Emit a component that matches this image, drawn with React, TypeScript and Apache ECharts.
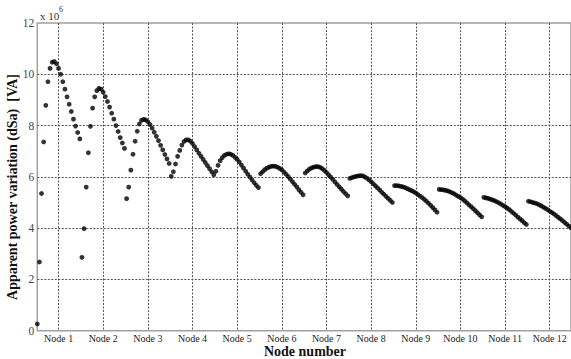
import React, { useEffect, useRef } from "react";
import * as echarts from "echarts";

const nodeLabels = ["Node 1", "Node 2", "Node 3", "Node 4", "Node 5", "Node 6", "Node 7", "Node 8", "Node 9", "Node 10", "Node 11", "Node 12"];
const pointsPerNode = 21;

const node1 = [0.26, 2.68, 5.35, 7.36, 8.79, 9.71, 10.23, 10.47, 10.5, 10.41, 10.23, 10.0, 9.71, 9.42, 9.12, 8.83, 8.55, 8.25, 7.98, 7.73, 7.48];
const node2 = [2.86, 3.98, 5.6, 6.94, 7.97, 8.68, 9.12, 9.36, 9.45, 9.42, 9.3, 9.13, 8.94, 8.72, 8.48, 8.25, 8.0, 7.77, 7.53, 7.32, 7.11];
const node3 = [5.15, 5.6, 6.26, 6.88, 7.39, 7.78, 8.06, 8.2, 8.24, 8.22, 8.15, 8.04, 7.9, 7.74, 7.58, 7.41, 7.23, 7.05, 6.87, 6.7, 6.52];
const node4 = [6.02, 6.2, 6.5, 6.8, 7.03, 7.24, 7.38, 7.44, 7.44, 7.39, 7.3, 7.18, 7.05, 6.92, 6.8, 6.68, 6.56, 6.44, 6.32, 6.2, 6.08];
const node5 = [6.22, 6.45, 6.63, 6.75, 6.84, 6.88, 6.9, 6.88, 6.84, 6.76, 6.68, 6.58, 6.46, 6.34, 6.22, 6.1, 5.99, 5.88, 5.77, 5.67, 5.58];
const node6 = [6.12, 6.2, 6.28, 6.34, 6.38, 6.41, 6.42, 6.41, 6.38, 6.33, 6.27, 6.19, 6.1, 6.01, 5.91, 5.81, 5.71, 5.61, 5.5, 5.4, 5.3];
const node7 = [6.15, 6.23, 6.3, 6.35, 6.38, 6.4, 6.4, 6.37, 6.32, 6.25, 6.17, 6.08, 5.99, 5.9, 5.8, 5.7, 5.61, 5.52, 5.43, 5.34, 5.26];
const node8 = [5.94, 5.97, 6.0, 6.02, 6.04, 6.05, 6.04, 6.0, 5.95, 5.88, 5.81, 5.73, 5.65, 5.57, 5.49, 5.4, 5.32, 5.24, 5.16, 5.08, 5.0];
const node9 = [5.66, 5.66, 5.65, 5.63, 5.61, 5.58, 5.54, 5.5, 5.46, 5.42, 5.37, 5.31, 5.25, 5.19, 5.12, 5.05, 4.97, 4.89, 4.8, 4.71, 4.62];
const node10 = [5.51, 5.5, 5.49, 5.47, 5.45, 5.42, 5.38, 5.34, 5.29, 5.24, 5.19, 5.13, 5.06, 4.99, 4.91, 4.84, 4.76, 4.68, 4.6, 4.52, 4.44];
const node11 = [5.2, 5.18, 5.16, 5.13, 5.1, 5.07, 5.03, 4.99, 4.94, 4.89, 4.84, 4.78, 4.72, 4.65, 4.58, 4.51, 4.43, 4.36, 4.29, 4.21, 4.14];
const node12 = [5.05, 5.03, 5.0, 4.98, 4.95, 4.91, 4.87, 4.82, 4.77, 4.72, 4.66, 4.61, 4.55, 4.49, 4.42, 4.36, 4.29, 4.22, 4.15, 4.08, 4.01];

const nodes = [node1, node2, node3, node4, node5, node6, node7, node8, node9, node10, node11, node12];

const yTicks = { min: 0, max: 12, interval: 2 };
const yName = "Apparent power variation (dSa)  [VA]";
const xName = "Node number";

const SERIF = "Liberation Serif";

export default function App() {
  const ref = useRef<HTMLDivElement>(null);
  useEffect(() => {
    document.body.style.margin = "0";
    if (!ref.current) return;
    const chart = echarts.init(ref.current, undefined, { renderer: "svg" });
    const total = nodes.length * pointsPerNode;
    const categories = Array.from({ length: total }, (_, j) =>
      j % pointsPerNode === 10 ? nodeLabels[Math.floor(j / pointsPerNode)] : ""
    );
    const data: number[][] = [];
    nodes.forEach((arr, k) => arr.forEach((v, j) => data.push([k * pointsPerNode + j, v])));
    const isTick = (index: number) => index % pointsPerNode === 10;
    chart.setOption({
      animation: false,
      backgroundColor: "#ffffff",
      textStyle: { fontFamily: SERIF },
      grid: {
        left: 37.3,
        top: 23,
        right: -2.4,
        bottom: 28.3,
        show: true,
        borderColor: "#a0a0a0",
        borderWidth: 1.5,
        backgroundColor: "transparent",
      },
      xAxis: {
        type: "category",
        boundaryGap: false,
        data: categories,
        axisLine: { show: false },
        axisTick: { show: false },
        axisLabel: {
          interval: isTick,
          fontFamily: SERIF,
          fontSize: 10,
          color: "#222",
          margin: 3,
        },
        splitLine: {
          show: true,
          interval: isTick,
          lineStyle: { color: "#555", width: 1, type: [2, 1.5] },
        },
      },
      yAxis: {
        type: "value",
        min: yTicks.min,
        max: yTicks.max,
        interval: yTicks.interval,
        axisLine: { show: false },
        axisTick: { show: false },
        axisLabel: {
          fontFamily: SERIF,
          fontSize: 11.5,
          color: "#444",
          margin: 3,
        },
        splitLine: {
          show: true,
          showMinLine: false,
          showMaxLine: false,
          lineStyle: { color: "#555", width: 1, type: [2, 1.5] },
        },
      },
      graphic: [
        {
          type: "text",
          x: 12,
          y: 187,
          rotation: Math.PI / 2,
          style: {
            text: yName,
            fontFamily: SERIF,
            fontSize: 14,
            fontWeight: "bold",
            fill: "#111",
            textAlign: "center",
            textVerticalAlign: "middle",
          },
        },
        {
          type: "text",
          x: 305,
          y: 351.5,
          style: {
            text: xName,
            fontFamily: SERIF,
            fontSize: 14,
            fontWeight: "bold",
            fill: "#111",
            textAlign: "center",
            textVerticalAlign: "middle",
          },
        },
        {
          type: "text",
          x: 40,
          y: 16,
          style: {
            text: "x 10",
            fontFamily: SERIF,
            fontSize: 11,
            fill: "#333",
            textAlign: "left",
            textVerticalAlign: "middle",
          },
        },
        {
          type: "text",
          x: 59,
          y: 9,
          style: {
            text: "6",
            fontFamily: SERIF,
            fontSize: 8,
            fill: "#333",
            textAlign: "left",
            textVerticalAlign: "middle",
          },
        },
      ],
      series: [
        {
          type: "scatter",
          data,
          symbol: "circle",
          symbolSize: 4.8,
          itemStyle: { color: "#000" },
          clip: true,
        },
      ],
    });
    return () => chart.dispose();
  }, []);
  return (
    <div
      ref={ref}
      style={{ position: "fixed", left: 0, top: 0, width: 571, height: 359 }}
    />
  );
}
